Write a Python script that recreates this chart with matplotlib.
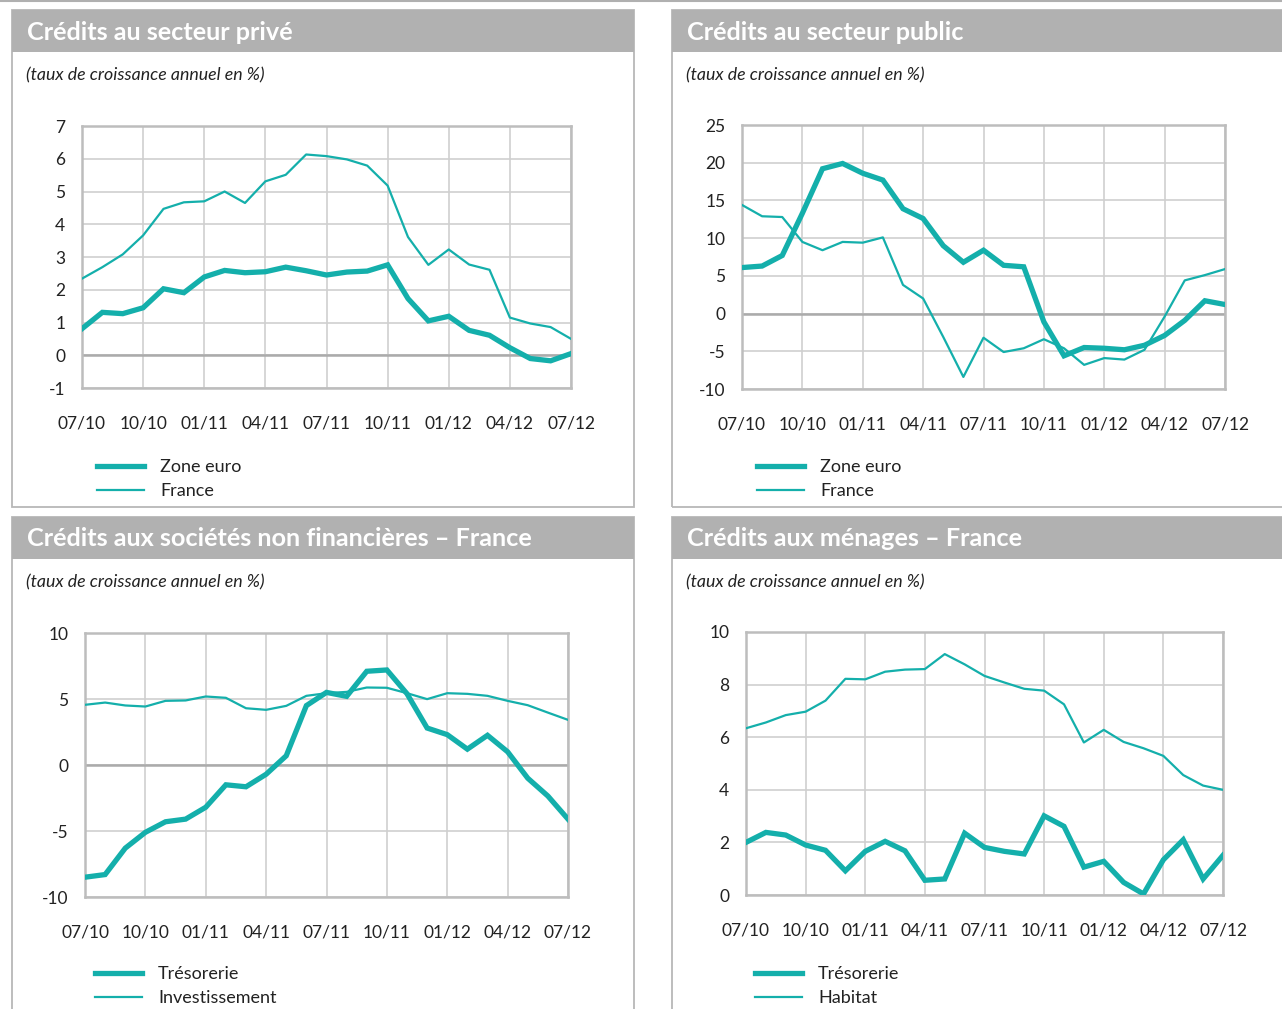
import matplotlib.pyplot as plt
from matplotlib.patches import Rectangle
from matplotlib.lines import Line2D

plt.rcParams['font.family'] = ['Lato', 'DejaVu Sans']

W, H = 1282, 1009

# months 07/10 .. 07/12
months = list(range(25))
tick_pos = [0, 3, 6, 9, 12, 15, 18, 21, 24]
tick_labels = ['07/10', '10/10', '01/11', '04/11', '07/11', '10/11', '01/12', '04/12', '07/12']

# Crédits au secteur privé
prive_zone_euro = [0.81, 1.31, 1.27, 1.45, 2.03, 1.91, 2.39, 2.59, 2.52, 2.55, 2.69, 2.58, 2.45,
                   2.54, 2.57, 2.76, 1.73, 1.05, 1.19, 0.76, 0.61, 0.23, -0.10, -0.17, 0.05]
prive_france = [2.34, 2.69, 3.08, 3.66, 4.47, 4.67, 4.70, 5.00, 4.65, 5.31, 5.51, 6.13, 6.08,
                5.98, 5.79, 5.18, 3.61, 2.76, 3.23, 2.77, 2.61, 1.15, 0.97, 0.86, 0.50]

# Crédits au secteur public
public_zone_euro = [6.1, 6.3, 7.7, 13.3, 19.2, 19.9, 18.6, 17.7, 13.9, 12.6, 9.0, 6.8, 8.4,
                    6.4, 6.2, -1.1, -5.6, -4.5, -4.6, -4.8, -4.2, -2.9, -0.9, 1.7, 1.2]
public_france = [14.4, 12.9, 12.8, 9.5, 8.4, 9.5, 9.4, 10.1, 3.8, 2.0, -3.1, -8.4, -3.2,
                 -5.1, -4.6, -3.4, -4.6, -6.8, -5.9, -6.1, -4.8, -0.4, 4.4, 5.1, 5.9]

# Crédits aux sociétés non financières - France
snf_tresorerie = [-8.5, -8.3, -6.3, -5.1, -4.3, -4.1, -3.2, -1.5, -1.65, -0.7, 0.7, 4.5, 5.5,
                  5.2, 7.1, 7.2, 5.4, 2.8, 2.3, 1.2, 2.25, 1.0, -1.0, -2.35, -4.1]
snf_investissement = [4.56, 4.73, 4.51, 4.43, 4.86, 4.89, 5.19, 5.09, 4.30, 4.18, 4.48, 5.24, 5.44,
                      5.54, 5.87, 5.85, 5.44, 4.99, 5.44, 5.39, 5.24, 4.86, 4.53, 3.97, 3.42]

# Crédits aux ménages - France
men_tresorerie = [2.0, 2.38, 2.28, 1.90, 1.70, 0.92, 1.66, 2.04, 1.68, 0.56, 0.61, 2.35, 1.81,
                  1.66, 1.56, 3.01, 2.61, 1.06, 1.28, 0.48, 0.04, 1.34, 2.10, 0.61, 1.51]
men_habitat = [6.34, 6.56, 6.84, 6.97, 7.39, 8.22, 8.20, 8.49, 8.57, 8.59, 9.16, 8.77, 8.33,
               8.08, 7.84, 7.77, 7.25, 5.80, 6.28, 5.82, 5.58, 5.29, 4.56, 4.16, 4.00]

TEAL = '#14afab'
TXT = '#222222'

fig = plt.figure(figsize=(W / 100, H / 100), dpi=100)


def fx(x):
    return x / W


def fy(y):
    return 1 - y / H


# top rule
fig.add_artist(Line2D([0, 1], [fy(1), fy(1)], color='#b0b0b0', lw=1.5, transform=fig.transFigure))


def panel(px0, py0, px1, py1, title):
    # frame
    fig.add_artist(Rectangle((fx(px0), fy(py1)), fx(px1 - px0), (py1 - py0) / H,
                             transform=fig.transFigure, fill=False, ec='#b8b8b8', lw=1.3))
    # title bar
    fig.add_artist(Rectangle((fx(px0), fy(py0 + 42)), fx(px1 - px0), 42 / H,
                             transform=fig.transFigure, fc='#b1b1b1', ec='none'))
    fig.text(fx(px0 + 15), fy(py0 + 22), title, color='white', fontsize=18.2,
             fontweight='bold', va='center', ha='left')
    fig.text(fx(px0 + 14), fy(py0 + 65), '(taux de croissance annuel en %)', color=TXT,
             fontsize=12.8, style='italic', va='center', ha='left')


def chart(box, thick, thin, ylim, yticks, labels, leg_xy):
    x0, y0, x1, y1 = box
    ax = fig.add_axes([fx(x0), fy(y1), fx(x1 - x0), (y1 - y0) / H])
    ax.set_xlim(0, 24)
    ax.set_ylim(*ylim)
    ax.set_xticks(tick_pos)
    ax.set_xticklabels(tick_labels)
    ax.set_yticks(yticks)
    ax.set_yticklabels(['%g' % v for v in yticks])
    ax.tick_params(length=0, labelsize=12.5, colors=TXT)
    ax.tick_params(axis='x', pad=20)
    ax.tick_params(axis='y', pad=12)
    ax.grid(True, color='#cfcfcf', lw=1.2)
    ax.set_axisbelow(True)
    for s in ax.spines.values():
        s.set_color('#bdbdbd')
        s.set_linewidth(1.8)
    if ylim[0] < 0 < ylim[1]:
        ax.axhline(0, color='#ababab', lw=1.8, zorder=1)
    l1, = ax.plot(months, thick, color=TEAL, lw=3.8, solid_joinstyle='miter', zorder=3)
    l2, = ax.plot(months, thin, color=TEAL, lw=1.6, zorder=3)
    fig.legend([l1, l2], labels, loc='upper left', bbox_to_anchor=(fx(leg_xy[0]), fy(leg_xy[1])),
               bbox_transform=fig.transFigure, frameon=False, fontsize=13,
               handlelength=2.6, handletextpad=0.9, labelspacing=0.45, borderpad=0,
               borderaxespad=0, labelcolor=TXT)
    return ax


panel(12, 10, 634, 507, 'Crédits au secteur privé')
panel(672, 10, 1290, 507, 'Crédits au secteur public')
panel(12, 517, 634, 1020, 'Crédits aux sociétés non financières \u2013 France')
panel(672, 517, 1290, 1020, 'Crédits aux ménages \u2013 France')

chart((82, 126, 571, 388), prive_zone_euro, prive_france, (-1, 7), list(range(-1, 8)),
      ['Zone euro', 'France'], (97, 459))
chart((742, 125, 1225, 389), public_zone_euro, public_france, (-10, 25), list(range(-10, 26, 5)),
      ['Zone euro', 'France'], (757, 459))
chart((85, 633, 568, 897), snf_tresorerie, snf_investissement, (-10, 10), [-10, -5, 0, 5, 10],
      ['Trésorerie', 'Investissement'], (95, 966))
chart((746, 632, 1223, 895), men_tresorerie, men_habitat, (0, 10), [0, 2, 4, 6, 8, 10],
      ['Trésorerie', 'Habitat'], (755, 966))

fig.savefig('out.png', dpi=100)
